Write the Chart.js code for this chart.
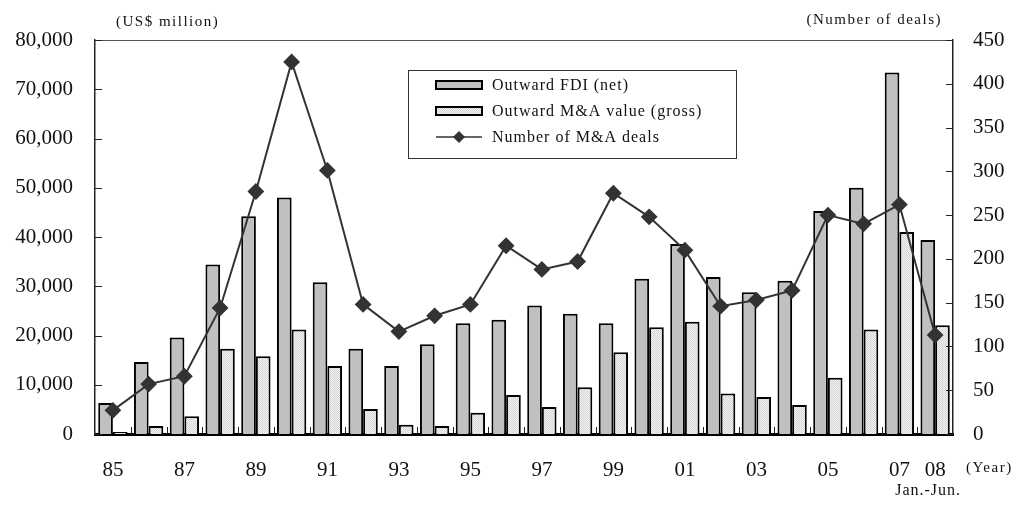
<!DOCTYPE html>
<html>
<head>
<meta charset="utf-8">
<script src="https://cdn.jsdelivr.net/npm/chart.js@4/dist/chart.umd.min.js"></script>
<style>
  html, body { margin: 0; padding: 0; background: #fff; }
  #wrap { position: relative; width: 1014px; height: 506px; }
</style>
</head>
<body>
<div id="wrap"><canvas id="chart" width="1014" height="506"></canvas></div>
<script>
// Japan's outward FDI and cross-border M&A, 1985 - 2008 (Jan.-Jun.)
const years = ['85','86','87','88','89','90','91','92','93','94','95','96','97','98','99','00','01','02','03','04','05','06','07','08'];
const yearTickLabels = ['85','','87','','89','','91','','93','','95','','97','','99','','01','','03','','05','','07','08'];
const outwardFDI = [6300,14600,19600,34400,44200,48000,30800,17300,13800,18200,22500,23200,26100,24400,22500,31500,38600,31900,28800,31100,45300,50000,73400,39400];
const outwardMA = [400,1600,3600,17300,15800,21200,13800,5100,1900,1600,4300,7900,5500,9500,16600,21700,22800,8200,7500,5900,11400,21200,41000,22100];
const dealCounts = [27,57,66,144,277,425,301,148,117,135,148,215,188,197,275,248,210,146,153,164,250,240,262,113];
const seriesNames = ['Outward FDI (net)', 'Outward M&A value (gross)', 'Number of M&A deals'];

const SERIF = "'Liberation Serif', 'Times New Roman', serif";

// fine dotted fill for the M&A bars
function dotPattern() {
  const c = document.createElement('canvas');
  c.width = 2; c.height = 2;
  const g = c.getContext('2d');
  g.fillStyle = '#f3f3f3';
  g.fillRect(0, 0, 2, 2);
  g.fillStyle = '#d4d4d4';
  g.fillRect(0, 0, 1, 1);
  g.fillRect(1, 1, 1, 1);
  return g.createPattern(c, 'repeat');
}
const maFill = dotPattern();

// frame line, inward tick marks, unit captions and the legend box
const decorations = {
  id: 'decorations',
  afterDraw(chart) {
    const ctx = chart.ctx;
    const a = chart.chartArea;
    const x = chart.scales.x, y = chart.scales.y, y1 = chart.scales.y1;
    ctx.save();
    // top frame
    ctx.strokeStyle = '#555';
    ctx.lineWidth = 1;
    ctx.beginPath();
    ctx.moveTo(a.left, a.top + 0.5);
    ctx.lineTo(a.right, a.top + 0.5);
    ctx.stroke();
    // category separators on the x axis
    ctx.strokeStyle = '#222';
    ctx.beginPath();
    for (let i = 1; i < years.length; i++) {
      const px = Math.round((x.getPixelForValue(i - 1) + x.getPixelForValue(i)) / 2) + 0.5;
      ctx.moveTo(px, a.bottom);
      ctx.lineTo(px, a.bottom - 7);
    }
    // y tick marks, pointing inward
    y.ticks.forEach(t => {
      const py = Math.round(y.getPixelForValue(t.value)) + 0.5;
      ctx.moveTo(a.left, py);
      ctx.lineTo(a.left + 7, py);
    });
    y1.ticks.forEach(t => {
      const py = Math.round(y1.getPixelForValue(t.value)) + 0.5;
      ctx.moveTo(a.right, py);
      ctx.lineTo(a.right - 7, py);
    });
    ctx.stroke();

    // unit captions
    ctx.fillStyle = '#111';
    ctx.textBaseline = 'middle';
    ctx.font = '15px ' + SERIF;
    ctx.letterSpacing = '1.5px';
    ctx.textAlign = 'left';
    ctx.fillText('(US$ million)', 116, 22);
    ctx.textAlign = 'right';
    ctx.fillText('(Number of deals)', 942, 20);
    ctx.textAlign = 'left';
    ctx.fillText('(Year)', 966, 468);
    ctx.font = '16px ' + SERIF;
    ctx.letterSpacing = '1px';
    ctx.textAlign = 'center';
    ctx.fillText('Jan.-Jun.', x.getPixelForValue(23) - 7, 491);

    // legend
    const lx = 408, ly = 70, lw = 328, lh = 88;
    ctx.fillStyle = '#fff';
    ctx.fillRect(lx, ly, lw, lh);
    ctx.strokeStyle = '#333';
    ctx.lineWidth = 1;
    ctx.strokeRect(lx + 0.5, ly + 0.5, lw, lh);
    const sx = 436, sw = 46, rows = [85, 111, 137];
    const fills = ['#c0c0c0', maFill];
    for (let i = 0; i < 2; i++) {
      ctx.fillStyle = fills[i];
      ctx.fillRect(sx, rows[i] - 4, sw, 8);
      ctx.lineWidth = 2;
      ctx.strokeStyle = '#000';
      ctx.strokeRect(sx, rows[i] - 4, sw, 8);
    }
    ctx.strokeStyle = '#333';
    ctx.lineWidth = 1.5;
    ctx.beginPath();
    ctx.moveTo(sx, rows[2]);
    ctx.lineTo(sx + sw, rows[2]);
    ctx.stroke();
    ctx.fillStyle = '#333';
    ctx.beginPath();
    const cx = sx + sw / 2, r = 6;
    ctx.moveTo(cx, rows[2] - r);
    ctx.lineTo(cx + r, rows[2]);
    ctx.lineTo(cx, rows[2] + r);
    ctx.lineTo(cx - r, rows[2]);
    ctx.closePath();
    ctx.fill();
    ctx.fillStyle = '#111';
    ctx.font = '16px ' + SERIF;
    ctx.letterSpacing = '1px';
    ctx.textAlign = 'left';
    ctx.textBaseline = 'middle';
    seriesNames.forEach((s, i) => ctx.fillText(s, 492, rows[i] + 1));
    ctx.restore();
  }
};

new Chart(document.getElementById('chart'), {
  type: 'bar',
  data: {
    labels: years,
    datasets: [
      {
        type: 'line',
        label: seriesNames[2],
        data: dealCounts,
        yAxisID: 'y1',
        borderColor: '#333',
        borderWidth: 2,
        pointStyle: 'rectRot',
        pointRadius: 7,
        pointBackgroundColor: '#333',
        pointBorderColor: '#333',
        tension: 0,
        order: 0
      },
      {
        label: seriesNames[0],
        data: outwardFDI,
        yAxisID: 'y',
        backgroundColor: '#c0c0c0',
        borderColor: '#000',
        borderWidth: 2,
        categoryPercentage: 0.82,
        barPercentage: 1,
        order: 1
      },
      {
        label: seriesNames[1],
        data: outwardMA,
        yAxisID: 'y',
        backgroundColor: maFill,
        borderColor: '#000',
        borderWidth: 2,
        categoryPercentage: 0.82,
        barPercentage: 1,
        order: 1
      }
    ]
  },
  options: {
    responsive: false,
    animation: false,
    layout: { padding: { top: 40, left: 0, right: 0, bottom: 0 } },
    plugins: { legend: { display: false }, tooltip: { enabled: false }, title: { display: false } },
    scales: {
      x: {
        grid: { display: false, drawTicks: false },
        border: { display: true, color: '#000', width: 3 },
        ticks: {
          autoSkip: false, maxRotation: 0, padding: 24,
          color: '#111', font: { family: SERIF, size: 21 },
          callback: (v, i) => yearTickLabels[i]
        },
        afterFit: s => { s.height = 72; }
      },
      y: {
        position: 'left',
        min: 0, max: 80000,
        grid: { display: false, drawTicks: false },
        border: { display: true, color: '#222', width: 1.5 },
        ticks: {
          stepSize: 10000, padding: 22,
          color: '#111', font: { family: SERIF, size: 21 },
          callback: v => v.toLocaleString('en-US')
        },
        afterFit: s => { s.width = 95; }
      },
      y1: {
        position: 'right',
        min: 0, max: 450,
        grid: { display: false, drawTicks: false },
        border: { display: true, color: '#222', width: 1.5 },
        ticks: {
          stepSize: 50, padding: 20,
          color: '#111', font: { family: SERIF, size: 21 }
        },
        afterFit: s => { s.width = 61; }
      }
    }
  },
  plugins: [decorations]
});
</script>
</body>
</html>
